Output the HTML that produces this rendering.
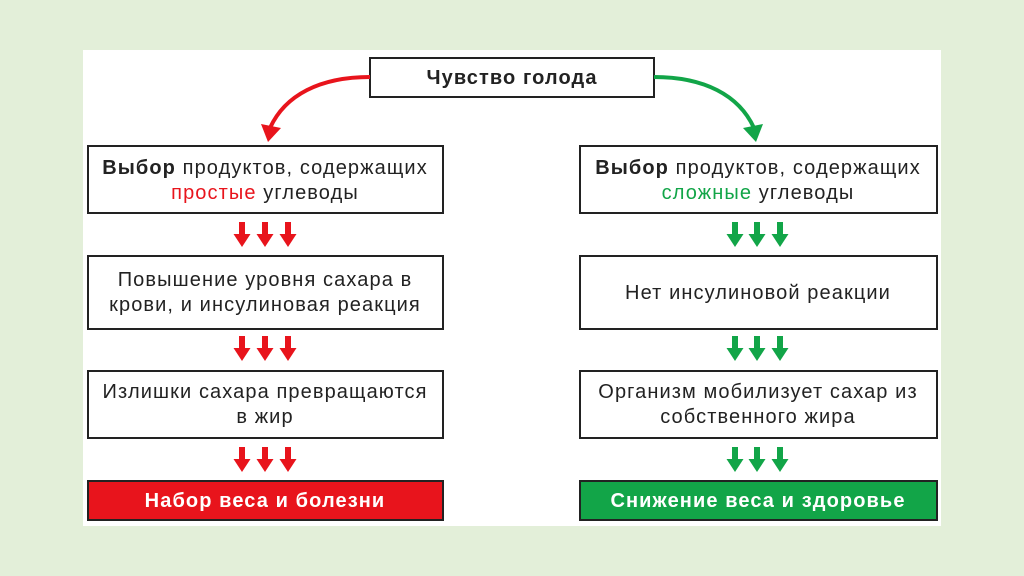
<!DOCTYPE html>
<html><head><meta charset="utf-8"><style>
body{margin:0;width:1024px;height:576px;background:#e3efd9;overflow:hidden}
svg{display:block}
text{font-family:"Liberation Sans",sans-serif;font-size:20px;fill:#222;letter-spacing:1.1px}
</style></head><body>
<svg width="1024" height="576" viewBox="0 0 1024 576">
<defs>
<g id="dr"><path d="M-3 0h6v12h5.5l-8.5 13l-8.5-13h5.5z" fill="#e8141c"/></g>
<g id="dg"><path d="M-3 0h6v12h5.5l-8.5 13l-8.5-13h5.5z" fill="#12a548"/></g>
</defs>
<rect x="83" y="50" width="858" height="476" fill="#fff"/>
<!-- top -->
<rect x="370" y="58" width="284" height="39" fill="#fff" stroke="#222" stroke-width="2"/>
<text x="512" y="84" text-anchor="middle" font-weight="bold">Чувство голода</text>
<path d="M370 77 C320 77 285 95 270 128" fill="none" stroke="#e8141c" stroke-width="4"/>
<path d="M261 124 L268 142 L281 128 Z" fill="#e8141c"/>
<path d="M654 77 C704 77 739 95 754 128" fill="none" stroke="#12a548" stroke-width="4"/>
<path d="M763 124 L756 142 L743 128 Z" fill="#12a548"/>
<!-- left -->
<rect x="88" y="146" width="355" height="67" fill="#fff" stroke="#222" stroke-width="2"/>
<text x="265" y="174" text-anchor="middle"><tspan font-weight="bold">Выбор</tspan> продуктов, содержащих</text>
<text x="265" y="199" text-anchor="middle"><tspan fill="#e8141c">простые</tspan> углеводы</text>
<use href="#dr" x="242" y="222"/><use href="#dr" x="265" y="222"/><use href="#dr" x="288" y="222"/>
<rect x="88" y="256" width="355" height="73" fill="#fff" stroke="#222" stroke-width="2"/>
<text x="265" y="286" text-anchor="middle">Повышение уровня сахара в</text>
<text x="265" y="311" text-anchor="middle">крови, и инсулиновая реакция</text>
<use href="#dr" x="242" y="336"/><use href="#dr" x="265" y="336"/><use href="#dr" x="288" y="336"/>
<rect x="88" y="371" width="355" height="67" fill="#fff" stroke="#222" stroke-width="2"/>
<text x="265" y="398" text-anchor="middle">Излишки сахара превращаются</text>
<text x="265" y="423" text-anchor="middle">в жир</text>
<use href="#dr" x="242" y="447"/><use href="#dr" x="265" y="447"/><use href="#dr" x="288" y="447"/>
<rect x="88" y="481" width="355" height="39" fill="#e8141c" stroke="#222" stroke-width="2"/>
<text x="265" y="507" text-anchor="middle" font-weight="bold" style="fill:#fff">Набор веса и болезни</text>
<!-- right -->
<rect x="580" y="146" width="357" height="67" fill="#fff" stroke="#222" stroke-width="2"/>
<text x="758" y="174" text-anchor="middle"><tspan font-weight="bold">Выбор</tspan> продуктов, содержащих</text>
<text x="758" y="199" text-anchor="middle"><tspan fill="#12a548">сложные</tspan> углеводы</text>
<use href="#dg" x="735" y="222"/><use href="#dg" x="757" y="222"/><use href="#dg" x="780" y="222"/>
<rect x="580" y="256" width="357" height="73" fill="#fff" stroke="#222" stroke-width="2"/>
<text x="758" y="299" text-anchor="middle">Нет инсулиновой реакции</text>
<use href="#dg" x="735" y="336"/><use href="#dg" x="757" y="336"/><use href="#dg" x="780" y="336"/>
<rect x="580" y="371" width="357" height="67" fill="#fff" stroke="#222" stroke-width="2"/>
<text x="758" y="398" text-anchor="middle">Организм мобилизует сахар из</text>
<text x="758" y="423" text-anchor="middle">собственного жира</text>
<use href="#dg" x="735" y="447"/><use href="#dg" x="757" y="447"/><use href="#dg" x="780" y="447"/>
<rect x="580" y="481" width="357" height="39" fill="#12a548" stroke="#222" stroke-width="2"/>
<text x="758" y="507" text-anchor="middle" font-weight="bold" style="fill:#fff">Снижение веса и здоровье</text>
</svg>
</body></html>
